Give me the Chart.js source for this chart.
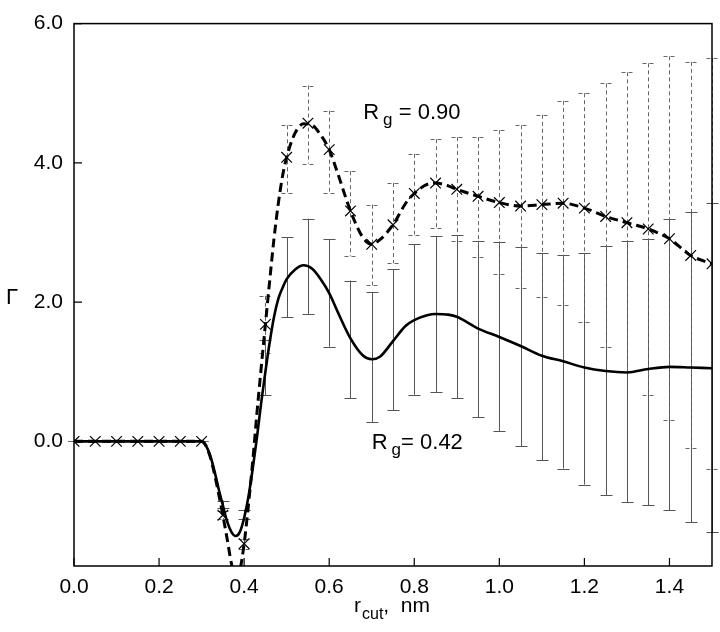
<!DOCTYPE html>
<html>
<head>
<meta charset="utf-8">
<script src="https://cdn.jsdelivr.net/npm/chart.js@4/dist/chart.umd.min.js"></script>
<style>
html,body{margin:0;padding:0;background:#fff;}
#wrap{width:720px;height:632px;}
</style>
</head>
<body>
<div id="wrap"><canvas id="c" width="720" height="632"></canvas></div>
<script>
// ---- data ----
const curveX = [0,0.05,0.1,0.15,0.2,0.25,0.3,0.31,0.32,0.33,0.34,0.35,0.36,0.37,0.38,0.39,0.40,0.41,0.42,0.43,0.44,0.45,0.46,0.47,0.48,0.49,0.50,0.52,0.54,0.56,0.58,0.60,0.62,0.65,0.68,0.70,0.72,0.75,0.78,0.80,0.83,0.85,0.88,0.90,0.95,1.0,1.05,1.1,1.15,1.2,1.25,1.3,1.35,1.4,1.45,1.5];
const solidCurve = [0,0,0,0,0,0,0,-0.06,-0.2,-0.42,-0.68,-0.92,-1.15,-1.3,-1.36,-1.3,-1.1,-0.8,-0.4,0.05,0.55,1.0,1.42,1.78,2.04,2.2,2.33,2.47,2.53,2.48,2.33,2.13,1.86,1.48,1.23,1.18,1.22,1.44,1.66,1.74,1.81,1.83,1.82,1.79,1.62,1.5,1.37,1.23,1.15,1.06,1.01,0.99,1.04,1.07,1.06,1.05];
const dashedCurve = [0,0,0,0,0,0,0,-0.06,-0.22,-0.46,-0.75,-1.06,-1.4,-1.75,-1.95,-1.85,-1.47,-0.92,-0.3,0.4,1.05,1.68,2.3,2.9,3.4,3.8,4.08,4.43,4.56,4.54,4.4,4.19,3.85,3.31,2.92,2.83,2.9,3.11,3.42,3.56,3.69,3.71,3.67,3.62,3.52,3.43,3.38,3.4,3.42,3.35,3.23,3.14,3.05,2.91,2.67,2.55];

const markerX = [0,0.05,0.1,0.15,0.2,0.25,0.3,0.35,0.4,0.45,0.5,0.55,0.6,0.65,0.7,0.75,0.8,0.85,0.9,0.95,1.0,1.05,1.1,1.15,1.2,1.25,1.3,1.35,1.4,1.45,1.5];
const dashedMarkers = [0,0,0,0,0,0,0,-1.06,-1.47,1.68,4.08,4.57,4.19,3.31,2.83,3.11,3.56,3.71,3.62,3.52,3.43,3.38,3.4,3.42,3.35,3.23,3.14,3.05,2.91,2.67,2.55];
const dashedHi = [0,0,0,0,0,0,0,-1.0,-1.4,2.09,4.54,5.11,4.75,3.88,3.4,3.71,4.13,4.34,4.37,4.37,4.47,4.54,4.69,4.89,5.0,5.14,5.3,5.43,5.53,5.45,5.5];
const dashedLo = [0,0,0,0,0,0,0,-1.12,-1.54,1.27,3.56,3.99,3.56,2.66,2.24,2.56,2.97,3.07,2.88,2.65,2.4,2.2,2.07,1.96,1.72,1.36,1.0,0.67,0.3,-0.1,-0.39];
const solidHi = [0,0,0,0,0,0,0,-0.85,-0.98,1.45,2.93,3.2,2.9,2.31,2.14,2.47,2.83,2.95,2.96,2.88,2.87,2.79,2.7,2.68,2.7,2.8,2.88,2.9,3.2,3.3,3.43];
const solidLo = [0,0,0,0,0,0,0,-0.95,-1.12,0.66,1.78,1.83,1.36,0.62,0.28,0.45,0.67,0.71,0.62,0.35,0.15,-0.07,-0.27,-0.39,-0.62,-0.77,-0.87,-0.92,-0.99,-1.16,-1.3];

const xTicks = [0,0.2,0.4,0.6,0.8,1.0,1.2,1.4];
const yTicks = [0,2,4,6];
const labelHigh = {x:0.68, y:4.75, base:'R', sub:'g', rest:' = 0.90'};
const labelLow  = {x:0.70, y:0.0, base:'R', sub:'g', rest:'= 0.42'};

const FONT = '"Liberation Sans", Arial, Helvetica, sans-serif';

function pts(xs, ys){ return xs.map((x,i)=>({x:x, y:ys[i]})); }

const errorBars = [
  {lo: solidLo, hi: solidHi, color:'#555', dash:[]},
  {lo: dashedLo, hi: dashedHi, color:'#666', dash:[4,3]}
];

const errPlugin = {
  id:'errbars',
  beforeDatasetsDraw(chart){
    const ctx = chart.ctx, xs = chart.scales.x, ys = chart.scales.y, a = chart.chartArea;
    ctx.save();
    ctx.beginPath();
    ctx.rect(0, a.top, chart.width, a.bottom - a.top);
    ctx.clip();
    errorBars.forEach(eb=>{
      ctx.strokeStyle = eb.color; ctx.lineWidth = 1; ctx.setLineDash(eb.dash);
      markerX.forEach((x,i)=>{
        const px = Math.round(xs.getPixelForValue(x)) + 0.5;
        const pHi = ys.getPixelForValue(eb.hi[i]);
        const pLo = ys.getPixelForValue(eb.lo[i]);
        ctx.beginPath();
        ctx.moveTo(px, pHi); ctx.lineTo(px, pLo);
        ctx.moveTo(px-6, Math.round(pHi)+0.5); ctx.lineTo(px+6, Math.round(pHi)+0.5);
        ctx.moveTo(px-6, Math.round(pLo)+0.5); ctx.lineTo(px+6, Math.round(pLo)+0.5);
        ctx.stroke();
      });
    });
    ctx.restore();
  },
  afterDraw(chart){
    const ctx = chart.ctx, xs = chart.scales.x, ys = chart.scales.y, a = chart.chartArea;
    ctx.save();
    // frame
    ctx.strokeStyle = '#000'; ctx.lineWidth = 1.5; ctx.setLineDash([]);
    ctx.strokeRect(a.left, a.top, a.right - a.left, a.bottom - a.top);
    // inward ticks
    ctx.lineWidth = 1.2;
    ctx.beginPath();
    xTicks.forEach(v=>{ const p = xs.getPixelForValue(v); ctx.moveTo(p, a.bottom); ctx.lineTo(p, a.bottom-8); });
    yTicks.forEach(v=>{ const p = ys.getPixelForValue(v); ctx.moveTo(a.left, p); ctx.lineTo(a.left+8, p); });
    ctx.stroke();
    // texts
    ctx.fillStyle = '#000';
    ctx.textBaseline = 'alphabetic';
    function subText(x, y, base, sub, rest, size){
      ctx.font = size + 'px ' + FONT;
      ctx.textAlign = 'left';
      ctx.fillText(base, x, y);
      let w = ctx.measureText(base).width + 4;
      ctx.font = Math.round(size*0.75) + 'px ' + FONT;
      ctx.fillText(sub, x + w, y + 6);
      w += ctx.measureText(sub).width;
      ctx.font = size + 'px ' + FONT;
      ctx.fillText(rest, x + w, y);
    }
    [labelHigh, labelLow].forEach(l=>{
      subText(xs.getPixelForValue(l.x), ys.getPixelForValue(l.y) + 8, l.base, l.sub, l.rest, 22);
    });
    // x title
    ctx.font = '21px ' + FONT;
    ctx.textAlign = 'left';
    ctx.fillText('r', 354, 612);
    let w = ctx.measureText('r').width + 1;
    ctx.font = '16px ' + FONT;
    ctx.fillText('cut', 354 + w, 619);
    w += ctx.measureText('cut').width;
    ctx.font = '21px ' + FONT;
    ctx.fillText(',  nm', 354 + w, 612);
    // y title
    ctx.font = '22px ' + FONT;
    ctx.textAlign = 'center';
    ctx.textBaseline = 'middle';
    ctx.fillText('\u0393', 12, ys.getPixelForValue(2.0) - 4);
    ctx.restore();
  }
};

new Chart(document.getElementById('c'), {
  type: 'line',
  data: {
    datasets: [
      {label:'Rg=0.42', data: pts(curveX, solidCurve), borderColor:'#000', borderWidth:2.6,
       pointRadius:0, cubicInterpolationMode:'monotone', fill:false},
      {label:'Rg=0.90', data: pts(curveX, dashedCurve), borderColor:'#000', borderWidth:3,
       borderDash:[9,5], pointRadius:0, cubicInterpolationMode:'monotone', fill:false},
      {label:'Rg=0.90 points', data: pts(markerX, dashedMarkers), showLine:false,
       pointStyle:'crossRot', pointRadius:7.5, pointBorderWidth:1.2, pointBorderColor:'#000',
       pointBackgroundColor:'#000', borderColor:'#000'}
    ]
  },
  options: {
    responsive:false, animation:false,
    layout:{ padding:{top:10, right:8, left:0, bottom:0}, autoPadding:false },
    plugins:{ legend:{display:false}, tooltip:{enabled:false} },
    scales:{
      x:{ type:'linear', min:0, max:1.5,
          grid:{display:false, drawTicks:false}, border:{display:false},
          afterFit(s){ s.height = 66; },
          afterBuildTicks(s){ s.ticks = xTicks.map(v=>({value:v})); },
          ticks:{ padding:9, color:'#000', font:{family:FONT, size:21},
                  callback:(v)=>Number(v).toFixed(1), maxRotation:0 } },
      y:{ type:'linear', min:-1.79, max:6,
          grid:{display:false, drawTicks:false}, border:{display:false},
          afterFit(s){ s.width = 74; },
          afterBuildTicks(s){ s.ticks = yTicks.map(v=>({value:v})); },
          ticks:{ padding:11, color:'#000', font:{family:FONT, size:21},
                  callback:(v)=>Number(v).toFixed(1) } }
    }
  },
  plugins:[errPlugin]
});
</script>
</body>
</html>
